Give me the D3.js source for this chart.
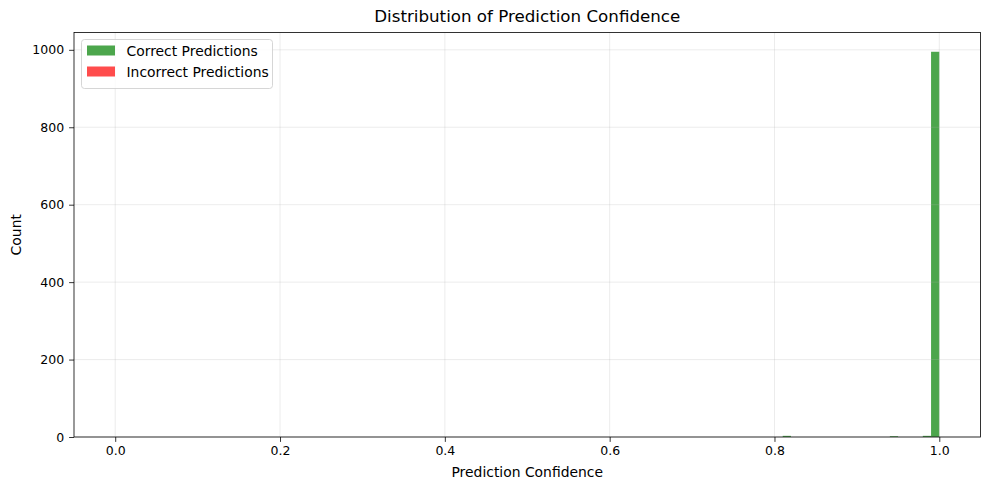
<!DOCTYPE html>
<html>
<head>
<meta charset="utf-8">
<script src="https://cdn.jsdelivr.net/npm/d3@7"></script>
<style>
  body { margin: 0; background: #fff; }
  svg { font-family: "DejaVu Sans", sans-serif; }
</style>
</head>
<body>
<div id="chart"></div>
<script>
// histogram bins (width 0.01 over 0..1), counts
const binStarts = [0.81, 0.94, 0.98, 0.99];
const correctCounts = [3, 2, 3, 995];
const incorrectCounts = [0, 0, 0, 0];
const binWidth = 0.01;
const xTicks = [0, 0.2, 0.4, 0.6, 0.8, 1.0];
const yTicks = [0, 200, 400, 600, 800, 1000];

const W = 989, H = 490;
const margin = {top: 32.5, right: 8.5, bottom: 53, left: 74};
const width = W - margin.left - margin.right,
  height = H - margin.top - margin.bottom;

const svg = d3.select("#chart").append("svg")
  .attr("width", W).attr("height", H);

const g = svg.append("g")
  .attr("transform", `translate(${margin.left},${margin.top})`);

const x = d3.scaleLinear().domain([-0.05, 1.05]).range([0, width]);
const yMax = d3.max(correctCounts) * 1.05;
const y = d3.scaleLinear().domain([0, yMax]).range([height, 0]);

// bars
const bars = binStarts.map((b, i) => ({b, c: correctCounts[i], w: incorrectCounts[i]}));
g.selectAll(".correct")
  .data(bars).join("rect")
  .attr("class", "correct")
  .attr("x", d => x(d.b))
  .attr("width", d => x(d.b + binWidth) - x(d.b))
  .attr("y", d => y(d.c))
  .attr("height", d => y(0) - y(d.c))
  .style("fill", "green").style("fill-opacity", 0.7);

g.selectAll(".incorrect")
  .data(bars.filter(d => d.w > 0)).join("rect")
  .attr("class", "incorrect")
  .attr("x", d => x(d.b))
  .attr("width", d => x(d.b + binWidth) - x(d.b))
  .attr("y", d => y(d.w))
  .attr("height", d => y(0) - y(d.w))
  .style("fill", "red").style("fill-opacity", 0.7);

// grid
g.append("g").selectAll("line").data(xTicks).join("line")
  .attr("x1", d => x(d)).attr("x2", d => x(d))
  .attr("y1", 0).attr("y2", height)
  .style("stroke", "#b0b0b0").style("stroke-opacity", 0.3).style("stroke-width", 0.8);
g.append("g").selectAll("line").data(yTicks).join("line")
  .attr("x1", 0).attr("x2", width)
  .attr("y1", d => y(d)).attr("y2", d => y(d))
  .style("stroke", "#b0b0b0").style("stroke-opacity", 0.3).style("stroke-width", 0.8);

// axes
const xAxis = g.append("g")
  .attr("transform", `translate(0,${height})`)
  .call(d3.axisBottom(x).tickValues(xTicks).tickFormat(d3.format(".1f")).tickSize(4.9).tickPadding(4));
const yAxis = g.append("g")
  .call(d3.axisLeft(y).tickValues(yTicks).tickFormat(d3.format("d")).tickSize(4.9).tickPadding(5));
[xAxis, yAxis].forEach(a => {
  a.select(".domain").remove();
  a.selectAll("text").style("font-size", "12.5px").style("font-family", "DejaVu Sans").style("fill", "#000");
  a.selectAll("line").style("stroke", "#000").style("stroke-width", 0.8);
});

g.append("rect")
  .attr("width", width).attr("height", height)
  .style("fill", "none").style("stroke", "#000").style("stroke-width", 0.8);

// labels
svg.append("text")
  .attr("x", margin.left + width / 2).attr("y", 22)
  .attr("text-anchor", "middle")
  .style("font-size", "16.7px")
  .text("Distribution of Prediction Confidence");

svg.append("text")
  .attr("x", margin.left + width / 2).attr("y", 477)
  .attr("text-anchor", "middle")
  .style("font-size", "13.9px")
  .text("Prediction Confidence");

svg.append("text")
  .attr("transform", `translate(21,${margin.top + height / 2}) rotate(-90)`)
  .attr("text-anchor", "middle")
  .style("font-size", "13.9px")
  .text("Count");

// legend
const legend = g.append("g").attr("transform", "translate(7.5,7)");
legend.append("rect")
  .attr("width", 191).attr("height", 49).attr("rx", 3)
  .style("fill", "#fff").style("fill-opacity", 0.8)
  .style("stroke", "#ccc").style("stroke-width", 0.8);
const items = [["Correct Predictions", "green"], ["Incorrect Predictions", "red"]];
items.forEach((it, i) => {
  legend.append("rect")
    .attr("x", 5.5).attr("y", 6 + i * 21)
    .attr("width", 28).attr("height", 10)
    .style("fill", it[1]).style("fill-opacity", 0.7);
  legend.append("text")
    .attr("x", 45).attr("y", 16 + i * 21)
    .style("font-size", "13.9px")
    .text(it[0]);
});
</script>
</body>
</html>
